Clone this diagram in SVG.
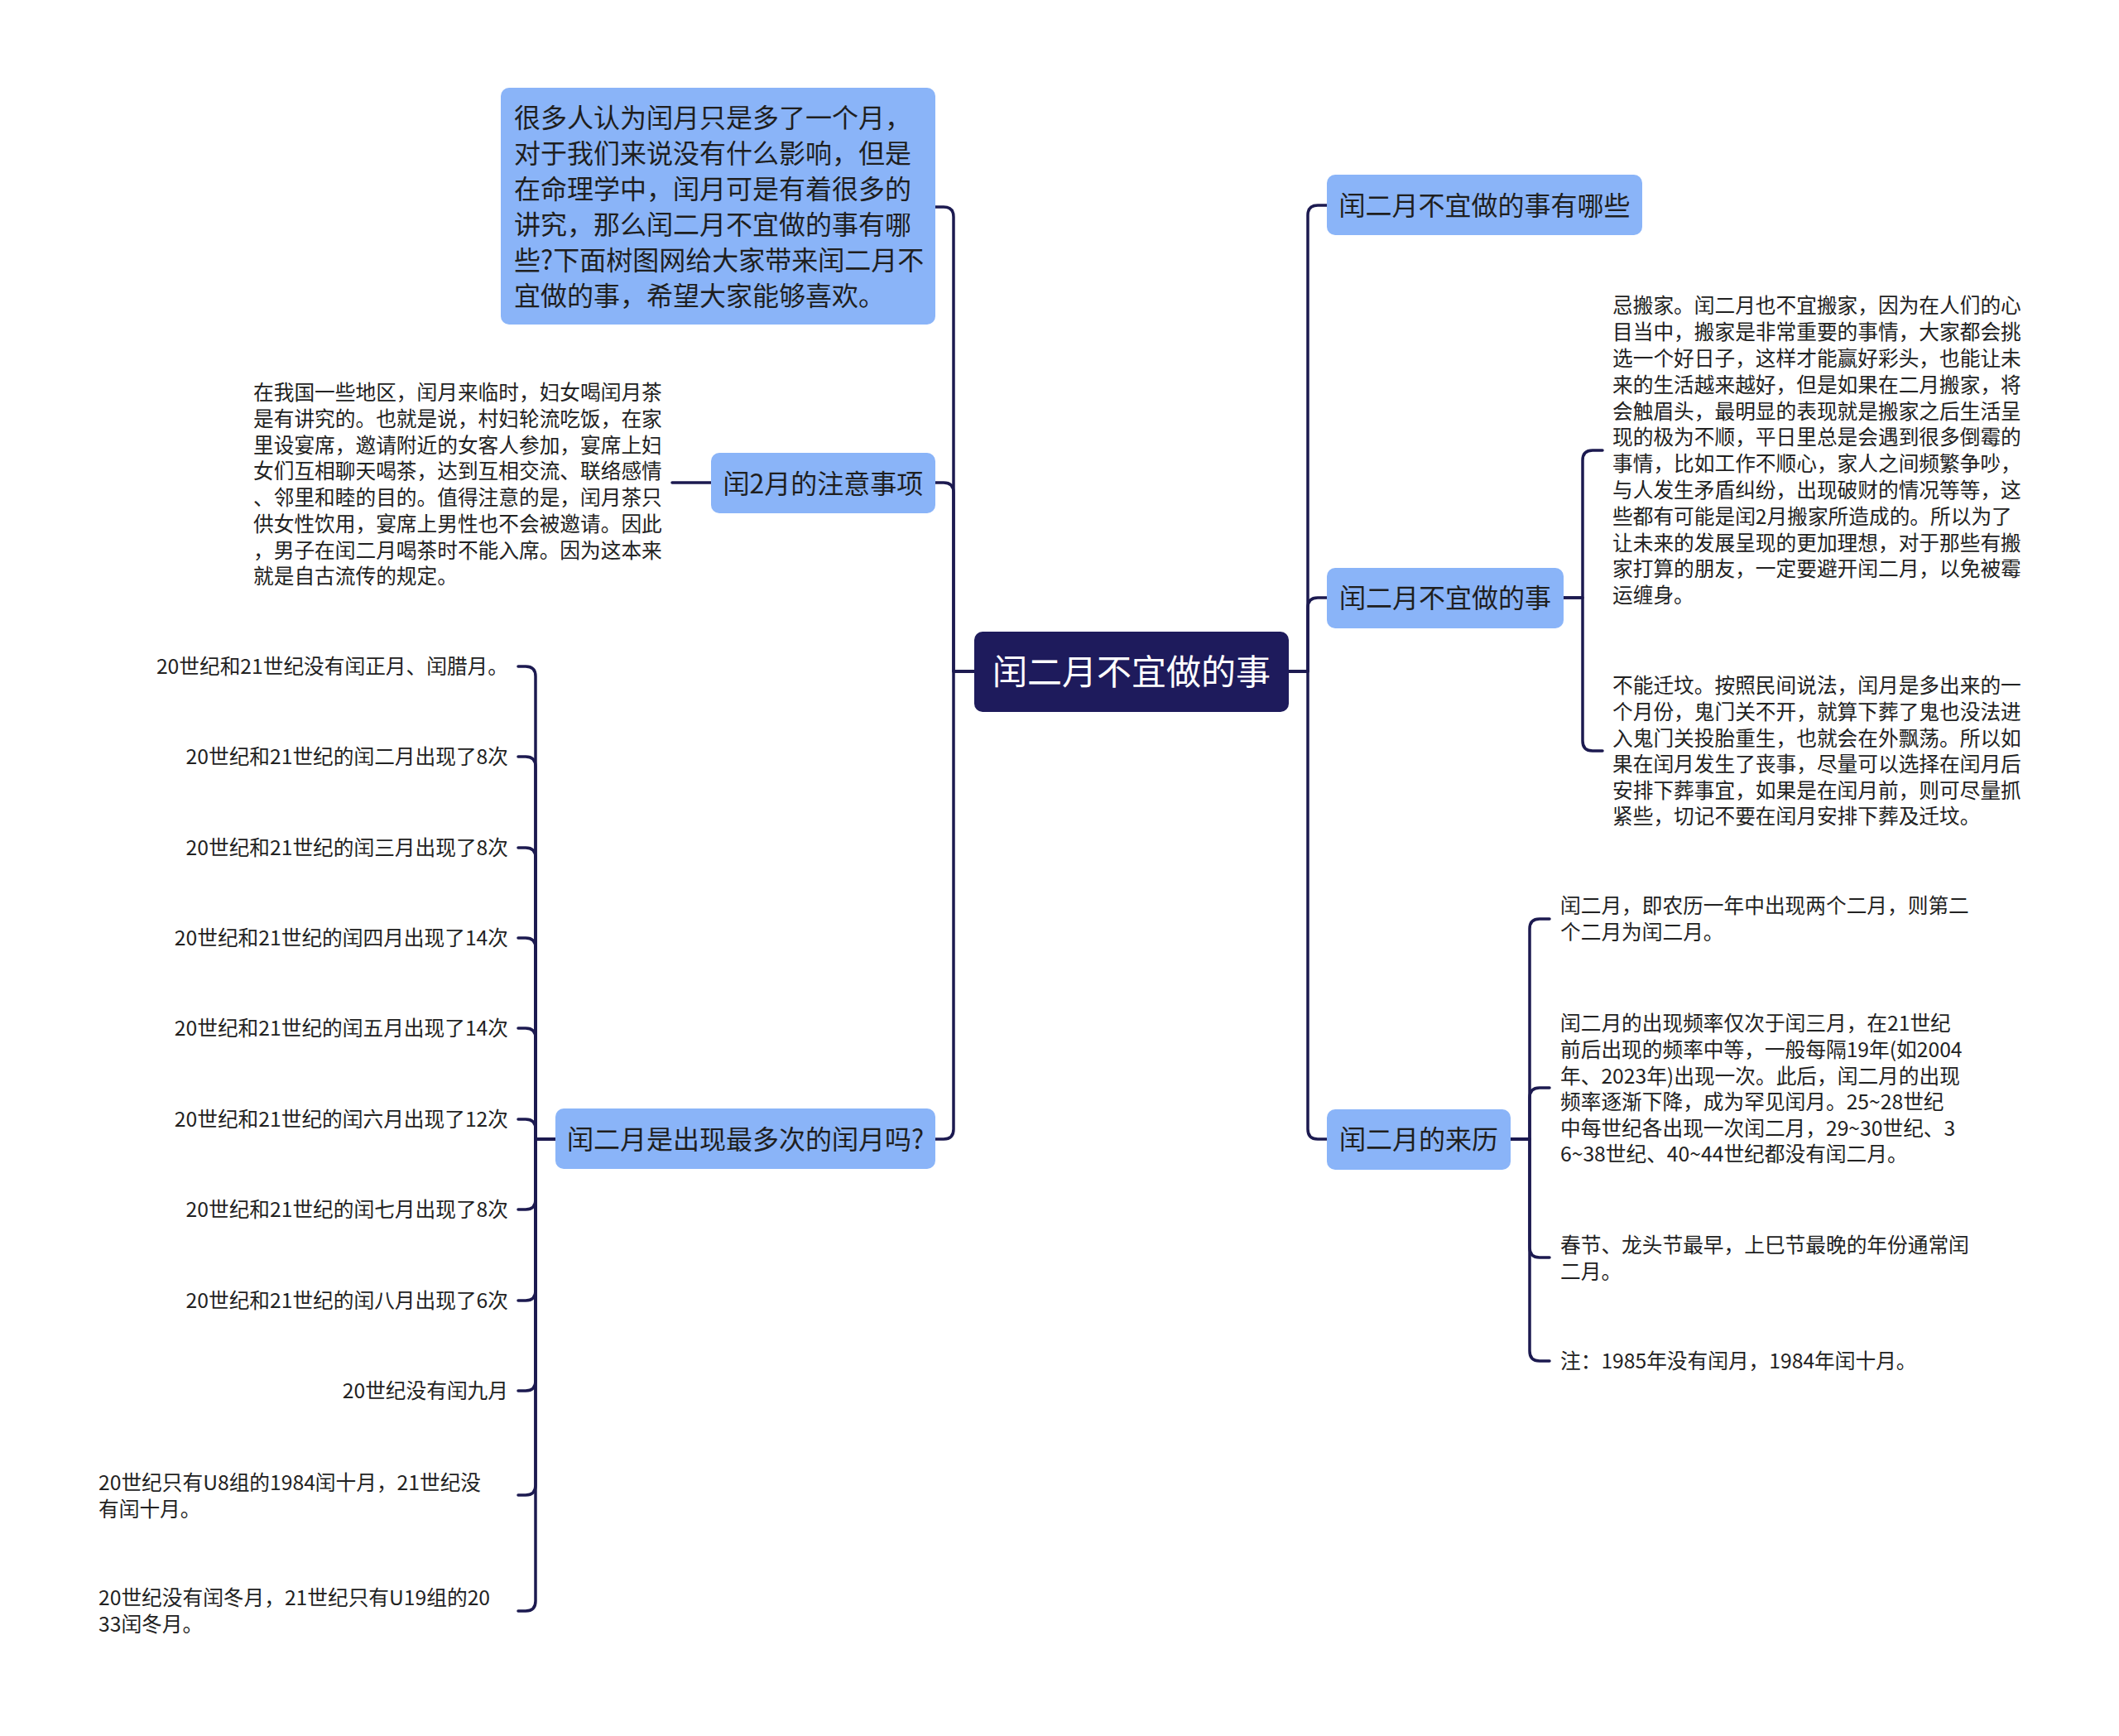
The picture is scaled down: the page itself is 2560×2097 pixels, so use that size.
<svg xmlns="http://www.w3.org/2000/svg" width="2560" height="2097" viewBox="0 0 2560 2097">
<style>
.bg{fill:#ffffff}
.root rect{fill:#1e1b5c}
.root text{fill:#ffffff;font-size:42px}
.main rect{fill:#8ab4f8}
.main text{fill:#1f1f1f;font-size:32px}
text{font-family:"Noto Sans CJK SC","Noto Sans",sans-serif}
.leaf text{fill:#222222;font-size:24.7px}
.conn path{fill:none;stroke:#1c1a50;stroke-width:3.5;stroke-linecap:round;stroke-linejoin:round}
</style>
<rect class="bg" x="0" y="0" width="2560" height="2097"/>
<g class="conn">
<path d="M1177 811 H1152 V262 Q1152 250 1140 250 H1130"/>
<path d="M1177 811 H1152 V595 Q1152 583 1140 583 H1130"/>
<path d="M1177 811 H1152 V1364 Q1152 1376 1140 1376 H1130"/>
<path d="M1557 811 H1580 V260 Q1580 248 1592 248 H1603"/>
<path d="M1557 811 H1580 V734 Q1580 722 1592 722 H1603"/>
<path d="M1557 811 H1580 V1364 Q1580 1376 1592 1376 H1603"/>
<path d="M859 583 H812"/>
<path d="M1889 722 H1912 V556 Q1912 544 1924 544 H1936"/>
<path d="M1889 722 H1912 V895 Q1912 907 1924 907 H1936"/>
<path d="M1825 1376 H1848 V1122 Q1848 1110 1860 1110 H1872"/>
<path d="M1825 1376 H1848 V1326 Q1848 1314 1860 1314 H1872"/>
<path d="M1825 1376 H1848 V1507 Q1848 1519 1860 1519 H1872"/>
<path d="M1825 1376 H1848 V1632 Q1848 1644 1860 1644 H1872"/>
<path d="M671 1376 H647 V817 Q647 805 635 805 H626"/>
<path d="M671 1376 H647 V926 Q647 914 635 914 H626"/>
<path d="M671 1376 H647 V1036 Q647 1024 635 1024 H626"/>
<path d="M671 1376 H647 V1145 Q647 1133 635 1133 H626"/>
<path d="M671 1376 H647 V1254 Q647 1242 635 1242 H626"/>
<path d="M671 1376 H647 V1364 Q647 1352 635 1352 H626"/>
<path d="M671 1376 H647 V1449 Q647 1461 635 1461 H626"/>
<path d="M671 1376 H647 V1559 Q647 1571 635 1571 H626"/>
<path d="M671 1376 H647 V1668 Q647 1680 635 1680 H626"/>
<path d="M671 1376 H647 V1794 Q647 1806 635 1806 H626"/>
<path d="M671 1376 H647 V1934 Q647 1946 635 1946 H626"/>
</g>
<g id="root" class="root">
<rect x="1177" y="763" width="380" height="97" rx="10"/>
<text x="1367" y="827" text-anchor="middle">闰二月不宜做的事</text>
</g>
<g id="intro" class="main">
<rect x="605" y="106" width="525" height="286" rx="10"/>
<text x="621" y="154">很多人认为闰月只是多了一个月，<tspan x="621" y="197">对于我们来说没有什么影响，但是</tspan><tspan x="621" y="240">在命理学中，闰月可是有着很多的</tspan><tspan x="621" y="283">讲究，那么闰二月不宜做的事有哪</tspan><tspan x="621" y="326">些?下面树图网给大家带来闰二月不</tspan><tspan x="621" y="369">宜做的事，希望大家能够喜欢。</tspan></text>
</g>
<g id="n-zhuyi" class="main">
<rect x="859" y="547" width="271" height="73" rx="10"/>
<text x="994.5" y="595.5" text-anchor="middle">闰2月的注意事项</text>
</g>
<g id="n-zuiduo" class="main">
<rect x="671" y="1339" width="459" height="73" rx="10"/>
<text x="900.5" y="1388" text-anchor="middle">闰二月是出现最多次的闰月吗?</text>
</g>
<g id="n-naxie" class="main">
<rect x="1603" y="211" width="381" height="73" rx="10"/>
<text x="1793.5" y="260" text-anchor="middle">闰二月不宜做的事有哪些</text>
</g>
<g id="n-buyi" class="main">
<rect x="1603" y="686" width="286" height="73" rx="10"/>
<text x="1746" y="734" text-anchor="middle">闰二月不宜做的事</text>
</g>
<g id="n-laili" class="main">
<rect x="1603" y="1340" width="222" height="73" rx="10"/>
<text x="1714" y="1388" text-anchor="middle">闰二月的来历</text>
</g>
<g id="leaf-zhuyi" class="leaf">
<text x="306" y="483">在我国一些地区，闰月来临时，妇女喝闰月茶<tspan x="306" y="514.8">是有讲究的。也就是说，村妇轮流吃饭，在家</tspan><tspan x="306" y="546.5">里设宴席，邀请附近的女客人参加，宴席上妇</tspan><tspan x="306" y="578.3">女们互相聊天喝茶，达到互相交流、联络感情</tspan><tspan x="306" y="610">、邻里和睦的目的。值得注意的是，闰月茶只</tspan><tspan x="306" y="641.8">供女性饮用，宴席上男性也不会被邀请。因此</tspan><tspan x="306" y="673.5">，男子在闰二月喝茶时不能入席。因为这本来</tspan><tspan x="306" y="705.3">就是自古流传的规定。</tspan></text>
</g>
<g id="leaf-banjia" class="leaf">
<text x="1948" y="378.4">忌搬家。闰二月也不宜搬家，因为在人们的心<tspan x="1948" y="410.2">目当中，搬家是非常重要的事情，大家都会挑</tspan><tspan x="1948" y="442">选一个好日子，这样才能赢好彩头，也能让未</tspan><tspan x="1948" y="473.8">来的生活越来越好，但是如果在二月搬家，将</tspan><tspan x="1948" y="505.6">会触眉头，最明显的表现就是搬家之后生活呈</tspan><tspan x="1948" y="537.4">现的极为不顺，平日里总是会遇到很多倒霉的</tspan><tspan x="1948" y="569.2">事情，比如工作不顺心，家人之间频繁争吵，</tspan><tspan x="1948" y="601">与人发生矛盾纠纷，出现破财的情况等等，这</tspan><tspan x="1948" y="632.8">些都有可能是闰2月搬家所造成的。所以为了</tspan><tspan x="1948" y="664.6">让未来的发展呈现的更加理想，对于那些有搬</tspan><tspan x="1948" y="696.4">家打算的朋友，一定要避开闰二月，以免被霉</tspan><tspan x="1948" y="728.2">运缠身。</tspan></text>
</g>
<g id="leaf-qianfen" class="leaf">
<text x="1948" y="837.4">不能迁坟。按照民间说法，闰月是多出来的一<tspan x="1948" y="869">个月份，鬼门关不开，就算下葬了鬼也没法进</tspan><tspan x="1948" y="900.6">入鬼门关投胎重生，也就会在外飘荡。所以如</tspan><tspan x="1948" y="932.2">果在闰月发生了丧事，尽量可以选择在闰月后</tspan><tspan x="1948" y="963.8">安排下葬事宜，如果是在闰月前，则可尽量抓</tspan><tspan x="1948" y="995.4">紧些，切记不要在闰月安排下葬及迁坟。</tspan></text>
</g>
<g id="leaf-laili-1" class="leaf">
<text x="1885" y="1103.4">闰二月，即农历一年中出现两个二月，则第二<tspan x="1885" y="1135.4">个二月为闰二月。</tspan></text>
</g>
<g id="leaf-laili-2" class="leaf">
<text x="1885" y="1245.4">闰二月的出现频率仅次于闰三月，在21世纪<tspan x="1885" y="1277">前后出现的频率中等，一般每隔19年(如2004</tspan><tspan x="1885" y="1308.6">年、2023年)出现一次。此后，闰二月的出现</tspan><tspan x="1885" y="1340.2">频率逐渐下降，成为罕见闰月。25~28世纪</tspan><tspan x="1885" y="1371.8">中每世纪各出现一次闰二月，29~30世纪、3</tspan><tspan x="1885" y="1403.4">6~38世纪、40~44世纪都没有闰二月。</tspan></text>
</g>
<g id="leaf-laili-3" class="leaf">
<text x="1885" y="1513.4">春节、龙头节最早，上巳节最晚的年份通常闰<tspan x="1885" y="1545">二月。</tspan></text>
</g>
<g id="leaf-laili-4" class="leaf">
<text x="1885" y="1653.4">注：1985年没有闰月，1984年闰十月。</text>
</g>
<g id="leaf-l1" class="leaf"><text x="614" y="814.4" text-anchor="end">20世纪和21世纪没有闰正月、闰腊月。</text></g>
<g id="leaf-l2" class="leaf"><text x="614" y="923.4" text-anchor="end">20世纪和21世纪的闰二月出现了8次</text></g>
<g id="leaf-l3" class="leaf"><text x="614" y="1033.4" text-anchor="end">20世纪和21世纪的闰三月出现了8次</text></g>
<g id="leaf-l4" class="leaf"><text x="614" y="1142.4" text-anchor="end">20世纪和21世纪的闰四月出现了14次</text></g>
<g id="leaf-l5" class="leaf"><text x="614" y="1251.4" text-anchor="end">20世纪和21世纪的闰五月出现了14次</text></g>
<g id="leaf-l6" class="leaf"><text x="614" y="1361.4" text-anchor="end">20世纪和21世纪的闰六月出现了12次</text></g>
<g id="leaf-l7" class="leaf"><text x="614" y="1470.4" text-anchor="end">20世纪和21世纪的闰七月出现了8次</text></g>
<g id="leaf-l8" class="leaf"><text x="614" y="1580.4" text-anchor="end">20世纪和21世纪的闰八月出现了6次</text></g>
<g id="leaf-l9" class="leaf"><text x="614" y="1689.4" text-anchor="end">20世纪没有闰九月</text></g>
<g id="leaf-l10" class="leaf"><text x="119" y="1800.4">20世纪只有U8组的1984闰十月，21世纪没<tspan x="119" y="1832.4">有闰十月。</tspan></text></g>
<g id="leaf-l11" class="leaf"><text x="119" y="1939.4">20世纪没有闰冬月，21世纪只有U19组的20<tspan x="119" y="1971.4">33闰冬月。</tspan></text></g>
</svg>
